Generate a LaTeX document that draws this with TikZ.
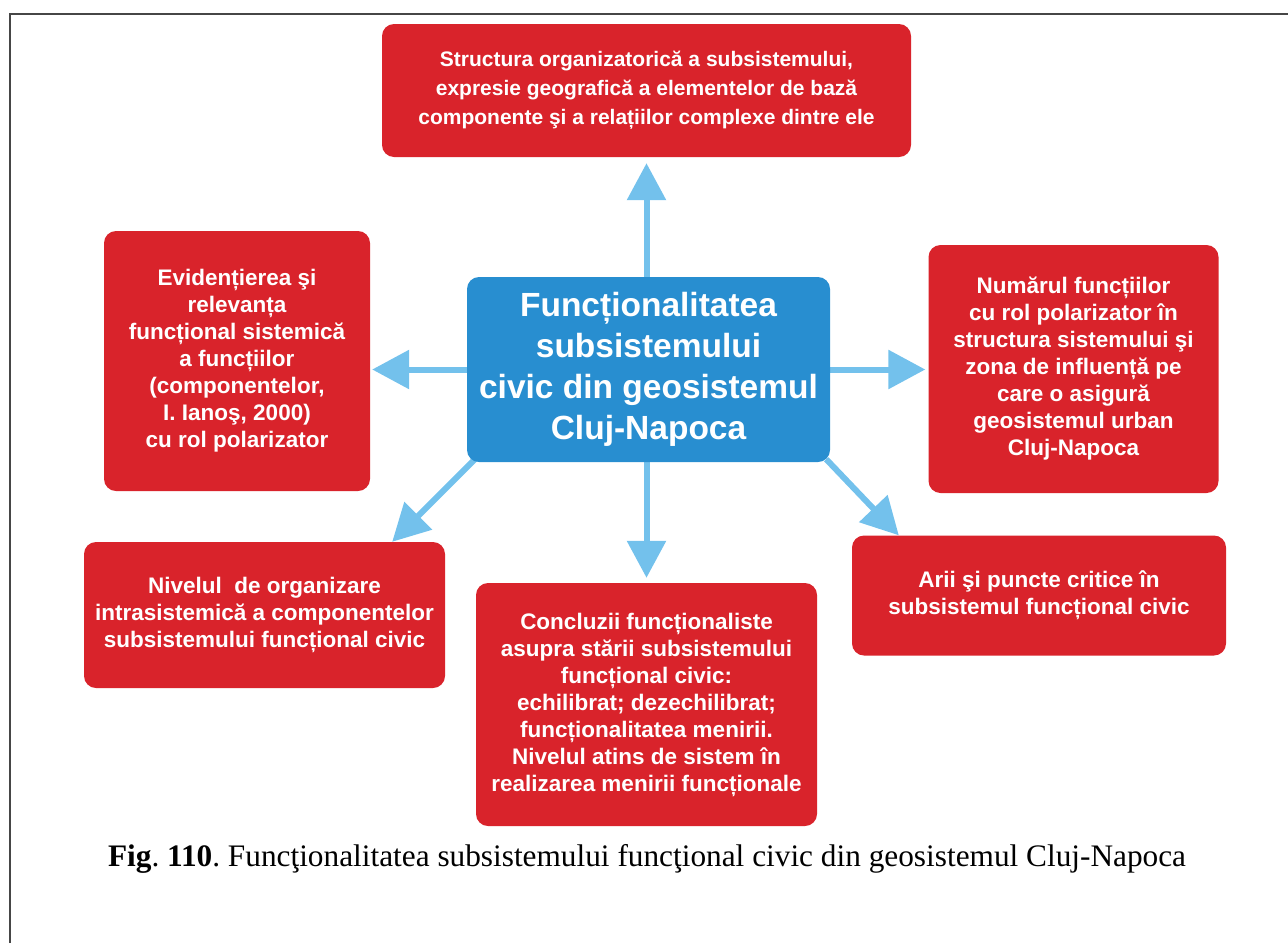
\documentclass[tikz,border=0pt]{standalone}
\usepackage{fontspec}
\setmainfont{Liberation Serif}
\newfontfamily\boxfont{Liberation Sans}
\usetikzlibrary{arrows.meta,backgrounds}
\definecolor{boxred}{RGB}{217,35,43}
\definecolor{boxblue}{RGB}{40,142,208}
\definecolor{arrowblue}{RGB}{115,193,236}
\definecolor{framegray}{RGB}{70,70,70}
\tikzset{
  redbox/.style={draw=none, fill=boxred, rounded corners=12pt, text=white, align=center, inner sep=0pt,
    font=\boxfont\bfseries\fontsize{22.5}{27}\selectfont},
  bluebox/.style={draw=none, fill=boxblue, rounded corners=12pt, text=white, align=center, inner sep=0pt,
    font=\boxfont\bfseries\fontsize{33.5}{41}\selectfont},
  linkarrow/.style={draw=arrowblue, line width=6pt, -{Triangle[width=38pt,length=37pt]}},
}
\frenchspacing
\begin{document}
\begin{tikzpicture}[x=1pt,y=-1pt]
\useasboundingbox (0,0) rectangle (1288,943);
\draw[framegray, line width=2pt] (9.5,943) -- (9.5,13.5) -- (1288,13.5);

\node[redbox, minimum width=529pt, minimum height=133pt, font=\boxfont\bfseries\fontsize{21}{29}\selectfont] (top) at (646.5,90.5)
  {Structura organizatorică a subsistemului,\\expresie geografică a elementelor de bază\\componente şi a relațiilor complexe dintre ele};
\node[bluebox, minimum width=363pt, minimum height=185pt] (c) at (648.5,369.5)
  {Funcționalitatea\\subsistemului\\civic din geosistemul\\Cluj-Napoca};
\node[redbox, minimum width=266pt, minimum height=260pt] (lu) at (237,361)
  {Evidențierea şi\\relevanța\\funcțional sistemică\\a funcțiilor\\(componentelor,\\I. Ianoş, 2000)\\cu rol polarizator};
\node[redbox, minimum width=290pt, minimum height=248pt] (ru) at (1073.5,369)
  {Numărul funcțiilor\\cu rol polarizator în\\structura sistemului şi\\zona de influență pe\\care o asigură\\geosistemul urban\\Cluj-Napoca};
\node[redbox, minimum width=361pt, minimum height=146pt] (ll) at (264.5,615)
  {Nivelul\ \ de organizare\\intrasistemică a componentelor\\subsistemului funcțional civic};
\node[redbox, minimum width=341pt, minimum height=243pt] (bc) at (646.5,704.5)
  {Concluzii funcționaliste\\asupra stării subsistemului\\funcțional civic:\\echilibrat; dezechilibrat;\\funcționalitatea menirii.\\Nivelul atins de sistem în\\realizarea menirii funcționale};
\node[redbox, minimum width=374pt, minimum height=120pt] (rl) at (1039,595.5)
  {Arii şi puncte critice în\\subsistemul funcțional civic};

\coordinate (dlS) at ([xshift=8pt,yshift=3pt]c.south west);
\coordinate (dlE) at ([xshift=-53pt]ll.north east);
\coordinate (drS) at ([xshift=-4pt,yshift=3pt]c.south east);
\coordinate (drE) at ([xshift=47pt]rl.north west);

\begin{scope}[on background layer]
  \draw[linkarrow, shorten >=6pt] (top.south |- c.north) -- (top.south);
  \draw[linkarrow, shorten >=5pt] (bc.north |- c.south) -- (bc.north);
  \draw[linkarrow, shorten >=2pt] (c.west) -- (c.west -| lu.east);
  \draw[linkarrow, shorten >=3pt] (c.east) -- (c.east -| ru.west);
  \draw[linkarrow] (dlS) -- (dlE);
  \draw[linkarrow] (drS) -- (drE);
\end{scope}

\node (cap) at (647,859) {\fontsize{31.3}{36}\selectfont\textbf{Fig}. \textbf{110}. Funcţionalitatea subsistemului funcţional civic din geosistemul Cluj-Napoca};
\end{tikzpicture}
\end{document}
